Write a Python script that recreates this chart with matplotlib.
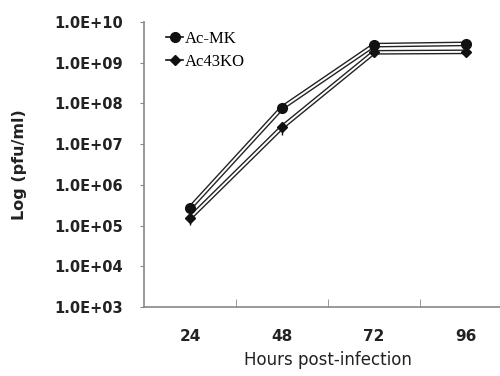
import math
import matplotlib
matplotlib.use("Agg")
import matplotlib.pyplot as plt
import matplotlib.patheffects as pe
from matplotlib.lines import Line2D
from matplotlib.ticker import FixedLocator, FuncFormatter

hours = ["24", "48", "72", "96"]
ac_mk = [2.7e5, 7.8e7, 2.7e9, 2.9e9]
ac_mk_err = [0.3e5, 0.8e7, 0.2e9, 0.2e9]
ac43ko = [1.55e5, 2.6e7, 1.8e9, 1.85e9]
ac43ko_err = [0.5e5, 0.9e7, 0.15e9, 0.15e9]
y_ticks = [1e3, 1e4, 1e5, 1e6, 1e7, 1e8, 1e9, 1e10]

fig = plt.figure(figsize=(5, 3.76), dpi=100)
ax = fig.add_axes([0.288, 0.1835, 0.736, 0.758])

x = list(range(len(hours)))
outline = [pe.Stroke(linewidth=3.4, foreground="#222222"), pe.Normal()]
for vals, errs, mk, ms in [(ac_mk, ac_mk_err, "o", 7), (ac43ko, ac43ko_err, "D", 5.5)]:
    ax.plot(x, vals, color="white", lw=1.4, path_effects=outline, zorder=2)
    ax.errorbar(x, vals, yerr=errs, fmt=mk, color="#111111", ms=ms,
                elinewidth=1, capsize=0, zorder=3)

ax.set_yscale("log")
ax.set_ylim(1e3, 1e10)
ax.set_xlim(-0.5, 3.5)
ax.yaxis.set_major_locator(FixedLocator(y_ticks))
ax.yaxis.set_minor_locator(FixedLocator([]))
ax.yaxis.set_major_formatter(FuncFormatter(lambda v, p: "1.0E+%02d" % round(math.log10(v))))
ax.set_xticks(x)
ax.set_xticklabels(hours)
ax.set_xticks([0.5, 1.5, 2.5], minor=True)

for s in ["top", "right"]:
    ax.spines[s].set_visible(False)
for s in ["left", "bottom"]:
    ax.spines[s].set_color("#888888")
    ax.spines[s].set_linewidth(1.2)

ax.tick_params(axis="y", which="major", direction="out", length=3, color="#888888",
               labelsize=10.5, pad=12)
ax.tick_params(axis="x", which="major", length=0, labelsize=11, pad=16)
ax.tick_params(axis="x", which="minor", direction="in", length=6, color="#888888")
for lab in ax.get_yticklabels() + ax.get_xticklabels():
    lab.set_fontweight("bold")
    lab.set_color("#222222")

ax.set_ylabel("Log (pfu/ml)", fontsize=11.5, fontweight="bold", color="#222222", labelpad=20)
ax.set_xlabel("Hours post-infection", fontsize=12, color="#222222", labelpad=5)

handles = [
    Line2D([], [], color="#111111", marker="o", ms=7, lw=1.2),
    Line2D([], [], color="#111111", marker="D", ms=5, lw=1.2),
]
ax.legend(handles, ["Ac-MK", "Ac43KO"], loc="upper left", bbox_to_anchor=(0.02, 1.02),
          frameon=False, handlelength=1.0, handletextpad=0.1, labelspacing=0.4,
          prop={"family": "Liberation Serif", "size": 12})

fig.savefig("out.png", dpi=100)
